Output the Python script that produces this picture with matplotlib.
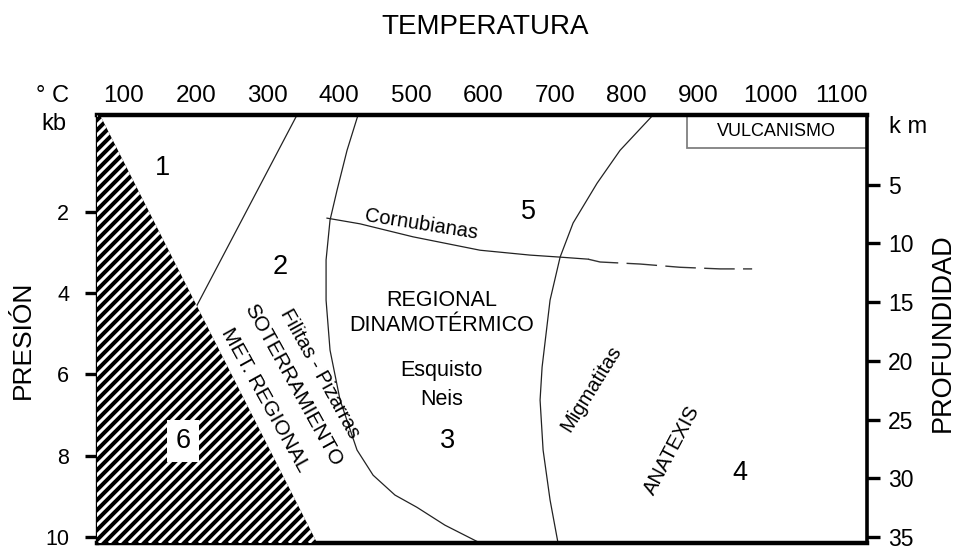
import numpy as np
import matplotlib
matplotlib.use("Agg")
import matplotlib.pyplot as plt
from matplotlib.patches import Polygon, Rectangle
from matplotlib import font_manager

plt.rcParams['font.family'] = ['Liberation Sans', 'DejaVu Sans']
_names = {f.name for f in font_manager.fontManager.ttflist}
NARROW = 'Liberation Sans Narrow' if 'Liberation Sans Narrow' in _names else 'Liberation Sans'

# ---- axis ranges -------------------------------------------------------
T_MIN, T_MAX = 62.4, 1135.0        # °C
P_TOP, P_BOT = -0.39, 10.15        # kb
Z_TOP, Z_BOT = -0.94, 35.5         # km

temp_ticks = [100, 200, 300, 400, 500, 600, 700, 800, 900, 1000, 1100]
pres_ticks = [2, 4, 6, 8, 10]
depth_ticks = [5, 10, 15, 20, 25, 30, 35]

# ---- field boundaries (temperature °C, pressure kb) --------------------
# edge of the forbidden field 6
edge6_T = [66.6, 369.0]
edge6_P = [P_TOP, P_BOT]

# boundary between fields 1 and 2
b12_T = [341.0, 201.0]
b12_P = [P_TOP, 4.32]

# boundary between fields 2 and 3
b23_T = [426.0, 410.7, 396.8, 387.0, 381.5, 381.5, 387.0, 401.0, 424.6, 447.0, 477.5, 508.0, 547.0, 596.0]
b23_P = [P_TOP, 0.48, 1.46, 2.20, 3.18, 4.17, 5.40, 6.63, 7.86, 8.48, 8.97, 9.27, 9.71, P_BOT]

# boundary between fields 3 and 4 (migmatites)
b34_T = [837.0, 791.0, 759.0, 725.6, 707.5, 693.5, 682.4, 679.6, 683.8, 693.5, 704.6]
b34_P = [P_TOP, 0.48, 1.29, 2.27, 3.11, 4.17, 5.82, 6.63, 7.86, 9.09, P_BOT]

# contact-metamorphism limit (hornfels), solid then dashed
corn_T = [382.8, 428.8, 502.6, 596.0, 665.6, 707.5, 746.4]
corn_P = [2.15, 2.29, 2.61, 2.94, 3.06, 3.11, 3.16]
corn_dash_T = [746.4, 763.2, 818.9, 874.6, 930.3, 975.0]
corn_dash_P = [3.16, 3.23, 3.28, 3.36, 3.40, 3.40]

# volcanism box
volc_T = [884.0, T_MAX]
volc_P = [P_TOP, 0.43]

# ---- figure -------------------------------------------------------------
W_PX, H_PX = 959, 546
fig = plt.figure(figsize=(W_PX / 100, H_PX / 100), dpi=100)
ax = fig.add_axes([97 / W_PX, 1 - 543 / H_PX, 770 / W_PX, 428 / H_PX])
ax.set_xlim(T_MIN, T_MAX)
ax.set_ylim(P_BOT, P_TOP)

# top temperature labels
ax.set_xticks(temp_ticks)
ax.set_xticklabels([str(t) for t in temp_ticks], family=NARROW, fontsize=17.5)
ax.tick_params(axis='x', bottom=False, labelbottom=False, top=True, labeltop=True,
               length=0, pad=6)

# left pressure ticks
ax.set_yticks(pres_ticks)
ax.set_yticklabels([str(p) for p in pres_ticks], fontsize=15.5)
ax.tick_params(axis='y', left=True, right=False, direction='out', length=9,
               width=2.4, pad=11)

# right depth axis
axz = ax.twinx()
axz.set_ylim(Z_BOT, Z_TOP)
axz.set_yticks(depth_ticks)
axz.set_yticklabels([str(z) for z in depth_ticks], fontsize=16.5)
axz.tick_params(axis='y', right=True, direction='out', length=9, width=2.4, pad=6)

for sp in ('top', 'bottom', 'left', 'right'):
    axz.spines[sp].set_visible(False)
axz.spines['right'].set_visible(True)
axz.spines['right'].set_linewidth(2.6)
ax.spines['right'].set_visible(False)
ax.spines['top'].set_linewidth(3.2)
ax.spines['bottom'].set_linewidth(3.2)
ax.spines['left'].set_linewidth(2.4)

# ---- field 6: black with white diagonal stripes -------------------------
poly6 = Polygon([(T_MIN, P_TOP), (edge6_T[0], edge6_P[0]),
                 (edge6_T[1], edge6_P[1]), (T_MIN, P_BOT)],
                closed=True, facecolor='black', edgecolor='none', zorder=3)
ax.add_patch(poly6)
aw, ah = 770.0, 428.0
period = 10.0
for c in np.arange(-ah, aw, period):
    ln, = ax.plot([c / aw, (c + ah) / aw], [0, 1], transform=ax.transAxes,
                  color='white', lw=2.2, zorder=4, solid_capstyle='butt')
    ln.set_clip_path(poly6)

# ---- boundaries ---------------------------------------------------------
lc = '#222222'
ax.plot(b12_T, b12_P, color=lc, lw=0.9, zorder=2)
ax.plot(b23_T, b23_P, color=lc, lw=0.9, zorder=2)
ax.plot(b34_T, b34_P, color=lc, lw=0.9, zorder=2)
ax.plot(corn_T, corn_P, color=lc, lw=0.9, zorder=2)
ax.plot(corn_dash_T, corn_dash_P, color='#333333', lw=1.0, zorder=2,
        dashes=(22, 6))

ax.add_patch(Rectangle((volc_T[0], volc_P[0]), volc_T[1] - volc_T[0],
                       volc_P[1] - volc_P[0], facecolor='white',
                       edgecolor='#808080', lw=1.3, zorder=2))
ax.text((volc_T[0] + volc_T[1]) / 2, (volc_P[0] + volc_P[1]) / 2, 'VULCANISMO',
        ha='center', va='center', fontsize=13, zorder=3)

# ---- field labels ---------------------------------------------------------
num_fs = 19.5
ax.text(153, 0.92, '1', ha='center', va='center', fontsize=num_fs)
ax.text(317, 3.36, '2', ha='center', va='center', fontsize=num_fs)
ax.text(663, 2.00, '5', ha='center', va='center', fontsize=num_fs)
ax.text(550, 7.64, '3', ha='center', va='center', fontsize=num_fs)
ax.text(958, 8.43, '4', ha='center', va='center', fontsize=num_fs)
ax.text(182, 7.64, '6', ha='center', va='center', fontsize=num_fs, zorder=6,
        bbox=dict(boxstyle='square,pad=0.3', facecolor='white', edgecolor='none'))

ax.text(542, 4.49, 'REGIONAL\nDINAMOTÉRMICO', ha='center', va='center',
        fontsize=15.5, linespacing=1.25)
ax.text(542, 6.26, 'Esquisto\nNeis', ha='center', va='center',
        fontsize=15.5, linespacing=1.5)
ax.text(514, 2.31, 'Cornubianas', ha='center', va='center', fontsize=14.5,
        rotation=-9, rotation_mode='anchor')
ax.text(373, 5.98, 'Filitas - Pizarras', ha='center', va='center',
        fontsize=14.5, rotation=-61, rotation_mode='anchor')
ax.text(336, 6.26, 'SOTERRAMIENTO', ha='center', va='center',
        fontsize=15, rotation=-61, rotation_mode='anchor')
ax.text(297, 6.63, 'MET. REGIONAL', ha='center', va='center',
        fontsize=15, rotation=-61, rotation_mode='anchor')
ax.text(751, 6.34, 'Migmatitas', ha='center', va='center', fontsize=14.5,
        rotation=58, rotation_mode='anchor')
ax.text(863, 7.86, 'ANATEXIS', ha='center', va='center', fontsize=14.5,
        rotation=62, rotation_mode='anchor')

# ---- outer titles and units -----------------------------------------------
def ftext(x, y, s, **kw):
    fig.text(x / W_PX, 1 - y / H_PX, s, **kw)

ftext(485, 27, 'TEMPERATURA', ha='center', va='center', fontsize=20)
ftext(23, 340, 'PRESIÓN', ha='center', va='center', fontsize=19, rotation=90)
ftext(943, 333, 'PROFUNDIDAD', ha='center', va='center', fontsize=19.5, rotation=90)
ftext(53, 96, '° C', ha='center', va='center', fontsize=17, family=NARROW)
ftext(54, 124, 'kb', ha='center', va='center', fontsize=17)
ftext(908, 127, 'k m', ha='center', va='center', fontsize=17)

fig.savefig('out.png', dpi=100)
